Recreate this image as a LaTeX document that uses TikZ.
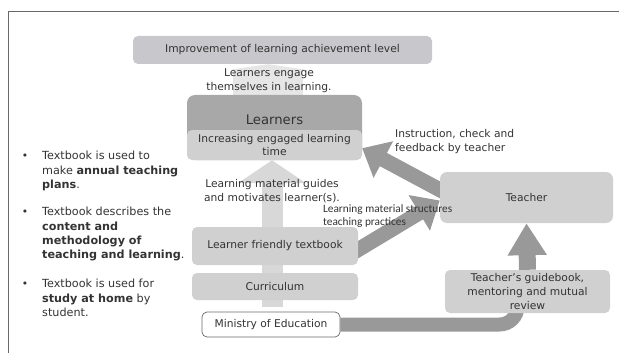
\documentclass[tikz,border=0pt]{standalone}
\usepackage{fontspec}
\setmainfont{DejaVu Sans}
\newfontfamily\smallfont{Carlito}
\usetikzlibrary{arrows.meta,backgrounds}
\tikzset{>=stealth}
\definecolor{topgray}{RGB}{200,200,204}
\definecolor{boxgray}{RGB}{208,208,208}
\definecolor{headgray}{RGB}{168,168,168}
\definecolor{arrowgray}{RGB}{153,153,153}
\definecolor{lightarrow}{RGB}{216,216,216}
\definecolor{palearrow}{RGB}{230,230,230}
\definecolor{fontgray}{RGB}{51,51,51}
\definecolor{framegray}{RGB}{105,105,105}
\tikzset{
  box/.style={rounded corners=5pt, fill=boxgray, inner sep=0pt, align=center,
    text=fontgray, font=\fontsize{10.7}{13.5}\selectfont},
  label/.style={inner sep=0pt, align=center, text=fontgray,
    font=\fontsize{10.7}{14}\selectfont},
  bigarrow/.style={arrowgray, line width=15pt, -{Triangle[length=24pt,width=40pt]}},
  list/.style={inner sep=0pt, align=left, anchor=north west, text=fontgray,
    font=\fontsize{11.2}{14.3}\selectfont}
}

\begin{document}
\begin{tikzpicture}[x=1pt,y=-1pt]
\useasboundingbox (0,0) rectangle (619,353);
\draw[framegray, line width=0.8pt] (8,353) -- (8,11) -- (619,11);

% boxes
\node[box, fill=topgray, minimum width=299pt, minimum height=28pt] (top) at (282.5,50) {Improvement of learning achievement level};
\node[box, rounded corners=8pt, fill=headgray, minimum width=175pt, minimum height=65pt] (learners) at (274.5,127.5) {};
\node[box, minimum width=175pt, minimum height=30pt] (engaged) at (274.5,145) {Increasing engaged learning\\time};
\node[label, font=\fontsize{13.2}{15}\selectfont] (learnerstitle) at (274.5,120) {Learners};
\node[box, minimum width=166pt, minimum height=38pt] (textbook) at (275,246) {Learner friendly textbook};
\node[box, minimum width=166pt, minimum height=27pt] (curriculum) at (275,286.5) {Curriculum};
\node[box, fill=white, draw=framegray, line width=0.7pt, minimum width=138pt, minimum height=25pt] (ministry) at (271,324.5) {Ministry of Education};
\node[box, rounded corners=7pt, minimum width=173pt, minimum height=51pt] (teacher) at (526.5,197.5) {Teacher};
\node[box, minimum width=165pt, minimum height=43pt, font=\fontsize{10.7}{14}\selectfont] (guide) at (527.5,291.5) {Teacher’s guidebook,\\mentoring and mutual\\review};

\coordinate (curbase) at (272,307);
\coordinate (bend) at ([xshift=-10pt]guide.south);

% arrows behind the boxes
\begin{scope}[on background layer]
\draw[palearrow, line width=70pt, -{Triangle[length=7pt,width=96pt]}] ([xshift=-6.5pt]learners.north) -- ([xshift=-14.5pt]top.south);
\draw[lightarrow, line width=21pt, -{Triangle[length=23pt,width=67pt]}] (curbase) -- ([xshift=-2.5pt]learners.south);
\draw[bigarrow] ([xshift=6pt,yshift=4.5pt]teacher.west) -- ([yshift=12pt]learners.south east);
\draw[bigarrow] ([xshift=-4pt,yshift=-6pt]textbook.east) -- ([yshift=-3pt]teacher.west);
\draw[arrowgray, line width=17pt, -{Triangle[length=32pt,width=37pt]}] (guide.north) -- (teacher.south);
\draw[arrowgray, line width=14pt, rounded corners=18pt] (ministry.east) -- (bend |- ministry.east) -- ([yshift=5pt]bend);
\end{scope}

% arrow texts
\node[label] (engage) at (269,81) {Learners engage\\themselves in learning.};
\node[label] (guides) at (272,191) {Learning material guides\\and motivates learner(s).};
\node[label, align=left, anchor=west] (feedback) at (395,142) {Instruction, check and\\feedback by teacher};
\node[label, align=left, anchor=west, font=\smallfont\fontsize{11.3}{12.5}\selectfont] (structures) at (323,216) {Learning material structures\\teaching practices};

% textbook notes
\node[list] (plans) at (42,151) {Textbook is used to\\make \textbf{annual teaching}\\\textbf{plans}.};
\node[list] (content) at (42,207) {Textbook describes the\\\textbf{content and}\\\textbf{methodology of}\\\textbf{teaching and learning}.};
\node[list] (home) at (42,279) {Textbook is used for\\\textbf{study at home} by\\student.};
\node[label] (dot1) at (25,157) {•};
\node[label] (dot2) at (25,213) {•};
\node[label] (dot3) at (25,285) {•};
\end{tikzpicture}
\end{document}
